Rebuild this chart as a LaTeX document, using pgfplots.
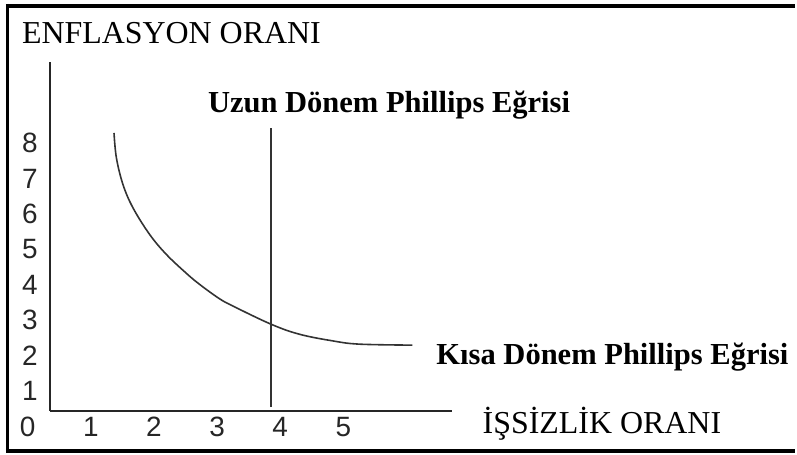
\documentclass[border=0pt]{standalone}
\usepackage{pgfplots}
\pgfplotsset{compat=1.18}
\usepackage{fontspec}
\setmainfont{Liberation Serif}
\newfontfamily\digitfont{Liberation Sans}

% Short-run Phillips curve (unemployment rate, inflation rate)
\pgfplotstableread{
u      v
1.368  8.290
1.406  7.586
1.510  6.834
1.668  6.177
1.932  5.425
2.196  4.862
2.512  4.330
2.722  4.017
3.027  3.623
3.248  3.406
3.855  2.890
4.302  2.608
4.828  2.420
5.250  2.327
6.092  2.299
}\shortrun

% Long-run Phillips curve: vertical at the natural rate
\pgfplotstableread{
u      v
3.855  0.552
3.855  8.439
}\longrun

\begin{document}
\begin{tikzpicture}
\begin{axis}[
  x=31.65pt, y=17.75pt,
  xmin=0.3523, xmax=6.719,
  ymin=0.4394, ymax=10.299,
  clip=false,
  axis lines=left,
  axis line style={-, line width=0.9pt, black!85},
  major tick length=0pt,
  xtick={1,2,3,4,5},
  ytick={1,2,3,4,5,6,7,8},
  /pgf/number format/assume math mode=true,
  ticklabel style={font=\digitfont\fontsize{14}{16}\selectfont, black!85},
  xticklabel style={anchor=center, yshift=-7.8pt},
  yticklabel style={anchor=center, xshift=-10pt},
]
  % page extent and frame
  \path (axis cs:-0.4376,-0.7437) rectangle (axis cs:12.153,12.045);
  \draw[line width=2pt] (axis cs:-0.3428,11.876) -- (axis cs:12.153,11.876);
  \draw[line width=1.65pt] (axis cs:-0.3207,11.933) -- (axis cs:-0.3207,-0.7437);
  \draw[line width=1.75pt] (axis cs:-0.3428,-0.6873) -- (axis cs:12.153,-0.6873);

  \addplot[smooth, tension=0.6, line width=0.8pt, black!80] table[x=u, y=v] {\shortrun};
  \addplot[line width=1pt, black!80] table[x=u, y=v] {\longrun};

  % shared origin label
  \node[font=\digitfont\fontsize{14}{16}\selectfont, black!85] at (axis cs:0,0) {0};

  \node[anchor=base west, inner sep=0pt, font=\fontsize{16}{19}\selectfont] at (axis cs:-0.0948,10.806) {ENFLASYON ORANI};
  \node[anchor=base, inner sep=0pt, font=\bfseries\fontsize{15.3}{18}\selectfont] at (axis cs:5.724,8.876) {Uzun Dönem Phillips Eğrisi};
  \node[anchor=base, inner sep=0pt, font=\bfseries\fontsize{15.3}{18}\selectfont] at (axis cs:9.262,1.763) {Kısa Dönem Phillips Eğrisi};
  \node[anchor=base, inner sep=0pt, font=\fontsize{16}{19}\selectfont] at (axis cs:9.096,-0.208) {İŞSİZLİK ORANI};
\end{axis}
\end{tikzpicture}
\end{document}
